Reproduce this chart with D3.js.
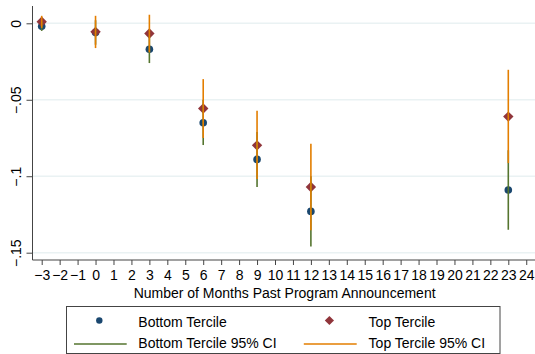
<!DOCTYPE html>
<html>
<head>
<meta charset="utf-8">
<script src="https://cdn.jsdelivr.net/npm/d3@7"></script>
<style>
  html, body { margin: 0; padding: 0; background: #fff; }
  svg { display: block; }
  text { font-family: "Liberation Sans", Arial, Helvetica, sans-serif; fill: #000; }
</style>
</head>
<body>
<svg id="chart" width="535" height="354"></svg>
<script>
// Event-study estimates by months since the announcement
const months = [-3, 0, 3, 6, 9, 12, 23];

const bottomEst = [-0.002, -0.006, -0.017, -0.065, -0.089, -0.123, -0.109];
const bottomLo  = [-0.005, -0.014, -0.026, -0.0796, -0.107, -0.146, -0.135];
const bottomHi  = [0.001, 0.002, -0.008, -0.050, -0.071, -0.100, -0.083];

const topEst = [0.001, -0.0056, -0.0067, -0.0557, -0.0798, -0.107, -0.061];
const topLo  = [-0.003, -0.0162, -0.019, -0.075, -0.1018, -0.1354, -0.0914];
const topHi  = [0.0049, 0.0049, 0.0056, -0.0365, -0.0572, -0.0788, -0.0304];

const xTicks = d3.range(-3, 25);
const yTicks = [0, -0.05, -0.1, -0.15];
const yTickLabels = ["0", "\u2212.05", "\u2212.1", "\u2212.15"];
const xTitle = "Number of Months Past Program Announcement";
const legendLabels = ["Bottom Tercile", "Top Tercile", "Bottom Tercile 95% CI", "Top Tercile 95% CI"];

const colors = {
  bottom: "#1a476f",
  top: "#90353b",
  bottomCI: "#55752f",
  topCI: "#e37e00",
  grid: "#eaf2f3",
  axis: "#444"
};

const svg = d3.select("#chart");

// Plot frame
const frame = { left: 32.5, right: 535, top: 6, bottom: 260 };

const x = d3.scaleLinear().domain([-3, 23]).range([41.7, 508.3]);
const y = d3.scaleLinear().domain([0, -0.15]).range([23.3, 252.7]);

// Horizontal gridlines
svg.append("g").selectAll("line").data(yTicks).join("line")
  .attr("x1", frame.left + 0.5).attr("x2", frame.right)
  .attr("y1", d => y(d)).attr("y2", d => y(d))
  .attr("stroke", colors.grid).attr("stroke-width", 1.5);

// Y axis
const yAxis = d3.axisLeft(y).tickValues(yTicks).tickSize(6)
  .tickFormat((d, i) => yTickLabels[i]);
const gy = svg.append("g").attr("transform", `translate(${frame.left},0)`).call(yAxis);
gy.select(".domain").remove();
gy.selectAll(".tick line").attr("stroke", colors.axis);
gy.selectAll(".tick text")
  .attr("x", null).attr("dy", null)
  .attr("transform", "translate(-11.5,0) rotate(-90)")
  .attr("text-anchor", "middle")
  .style("font-size", "14px")
  .style("font-family", "'Liberation Sans', Arial, sans-serif")
  .attr("fill", "#000");
svg.append("line")
  .attr("x1", frame.left).attr("x2", frame.left).attr("y1", frame.top).attr("y2", frame.bottom)
  .attr("stroke", colors.axis).attr("stroke-width", 1);

// X axis
const xAxis = d3.axisBottom(x).tickValues(xTicks).tickSize(5)
  .tickFormat(d => d < 0 ? "\u2212" + Math.abs(d) : String(d));
const gx = svg.append("g").attr("transform", `translate(0,${frame.bottom})`).call(xAxis);
gx.select(".domain").remove();
gx.selectAll(".tick line").attr("stroke", colors.axis);
gx.selectAll(".tick text")
  .attr("y", 20).attr("dy", null)
  .style("font-size", "14px")
  .style("font-family", "'Liberation Sans', Arial, sans-serif")
  .attr("fill", "#000");
svg.append("line")
  .attr("x1", frame.left).attr("x2", frame.right).attr("y1", frame.bottom).attr("y2", frame.bottom)
  .attr("stroke", colors.axis).attr("stroke-width", 1);

svg.append("text")
  .attr("x", 284.6).attr("y", 297.5)
  .attr("text-anchor", "middle")
  .style("font-size", "14px")
  .text(xTitle);

// Markers
const rows = months.map((m, i) => ({
  m, bEst: bottomEst[i], bLo: bottomLo[i], bHi: bottomHi[i],
  tEst: topEst[i], tLo: topLo[i], tHi: topHi[i]
}));

const marks = svg.append("g");

marks.selectAll("circle.bottom").data(rows).join("circle")
  .attr("class", "bottom")
  .attr("cx", d => x(d.m)).attr("cy", d => y(d.bEst))
  .attr("r", 3.8).attr("fill", colors.bottom);

const diamond = (cx, cy, r) => `M${cx},${cy - r}L${cx + r},${cy}L${cx},${cy + r}L${cx - r},${cy}Z`;

marks.selectAll("path.top").data(rows).join("path")
  .attr("class", "top")
  .attr("d", d => diamond(x(d.m), y(d.tEst), 5.2))
  .attr("fill", colors.top);

// Confidence intervals
marks.selectAll("line.bci").data(rows).join("line")
  .attr("class", "bci")
  .attr("x1", d => x(d.m)).attr("x2", d => x(d.m))
  .attr("y1", d => y(d.bLo)).attr("y2", d => y(d.bHi))
  .attr("stroke", colors.bottomCI).attr("stroke-width", 1.6);

marks.selectAll("line.tci").data(rows).join("line")
  .attr("class", "tci")
  .attr("x1", d => x(d.m)).attr("x2", d => x(d.m))
  .attr("y1", d => y(d.tLo)).attr("y2", d => y(d.tHi))
  .attr("stroke", colors.topCI).attr("stroke-width", 1.6);

// Legend
const lg = svg.append("g");
lg.append("rect")
  .attr("x", 66.5).attr("y", 306.5).attr("width", 433.5).attr("height", 47)
  .attr("fill", "#fff").attr("stroke", colors.axis).attr("stroke-width", 1);

lg.append("circle").attr("cx", 99.3).attr("cy", 320.5).attr("r", 3.2).attr("fill", colors.bottom);
lg.append("path").attr("d", diamond(329.4, 320.5, 4.6)).attr("fill", colors.top);
lg.append("line").attr("x1", 74).attr("x2", 126.7).attr("y1", 344).attr("y2", 344)
  .attr("stroke", colors.bottomCI).attr("stroke-width", 1.5);
lg.append("line").attr("x1", 303.8).attr("x2", 356.7).attr("y1", 344).attr("y2", 344)
  .attr("stroke", colors.topCI).attr("stroke-width", 1.5);

const legendPos = [[138.3, 327.3], [368.6, 327.3], [138.3, 348], [368.6, 348]];
lg.selectAll("text").data(legendLabels).join("text")
  .attr("x", (d, i) => legendPos[i][0]).attr("y", (d, i) => legendPos[i][1])
  .style("font-size", "14px")
  .text(d => d);
</script>
</body>
</html>
